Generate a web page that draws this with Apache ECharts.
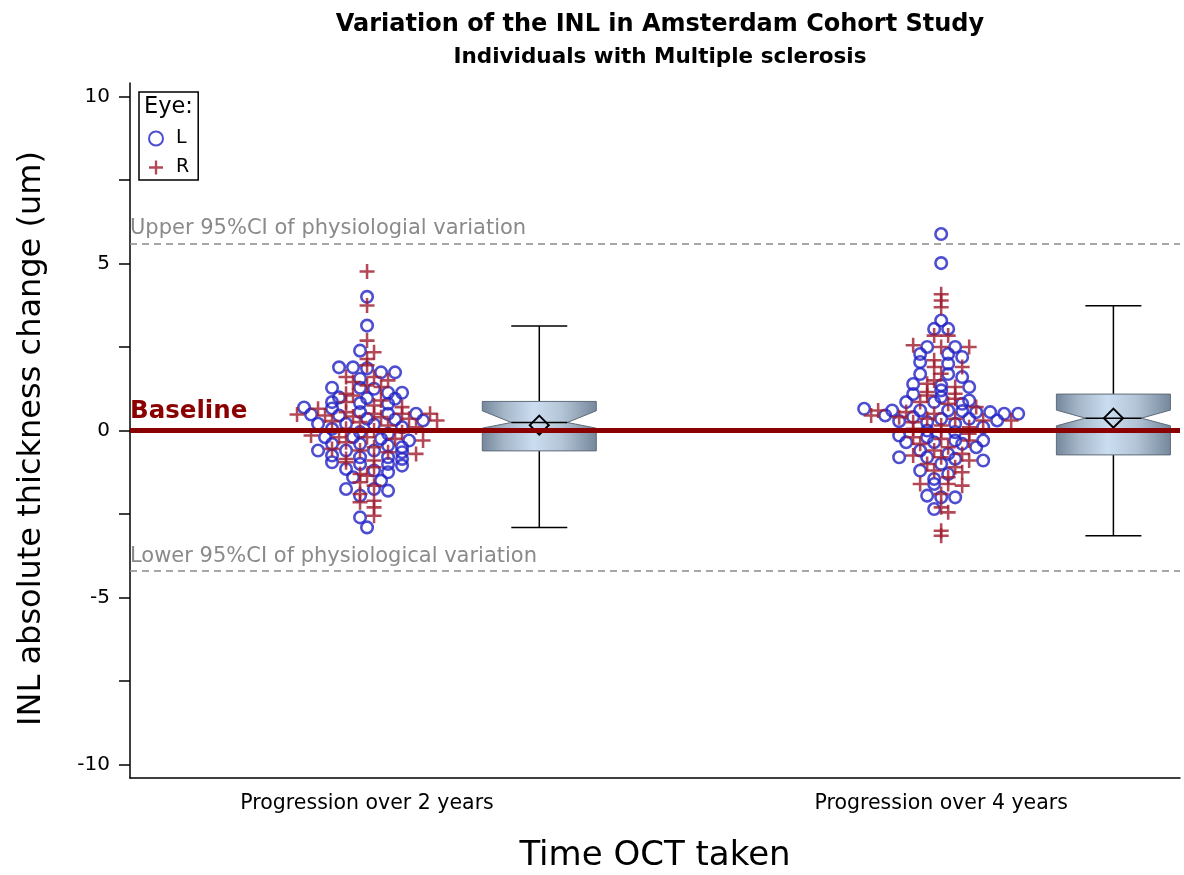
<!DOCTYPE html>
<html>
<head>
<meta charset="utf-8">
<script src="https://cdn.jsdelivr.net/npm/echarts@6/dist/echarts.min.js"></script>
<style>
html,body{margin:0;padding:0;background:#fff;}
#chart{width:1184px;height:875px;}
</style>
</head>
<body>
<div id="chart"></div>
<script>
// ---------- DATA ----------
const categories = ['Progression over 2 years', 'Progression over 4 years'];

// Individual INL changes (um), per time point and eye
const twoYearL = [4.0, 3.14, 2.39, 1.89, 1.89, 1.86, 1.74, 1.74, 1.55, 1.28, 1.28, 1.25, 1.13, 1.13, 0.99, 0.97, 0.95, 0.85, 0.82, 0.8, 0.69, 0.66, 0.55, 0.5, 0.5, 0.48, 0.45, 0.35, 0.33, 0.3, 0.2, 0.2, 0.18, 0.1, 0.05, -0.05, -0.1, -0.2, -0.2, -0.25, -0.3, -0.4, -0.4, -0.45, -0.5, -0.6, -0.6, -0.6, -0.65, -0.75, -0.8, -0.8, -0.85, -0.95, -1.0, -1.0, -1.05, -1.15, -1.2, -1.25, -1.4, -1.5, -1.75, -1.75, -1.8, -1.95, -2.6, -2.9];
const twoYearR = [4.76, 3.74, 2.69, 2.34, 2.14, 1.95, 1.6, 1.6, 1.5, 1.45, 1.35, 1.3, 1.1, 1.05, 0.9, 0.85, 0.75, 0.7, 0.65, 0.55, 0.5, 0.5, 0.5, 0.48, 0.45, 0.42, 0.4, 0.35, 0.3, 0.28, 0.25, 0.15, 0.1, 0.05, 0.0, -0.05, -0.15, -0.2, -0.2, -0.25, -0.3, -0.35, -0.5, -0.55, -0.6, -0.65, -0.7, -0.85, -0.9, -0.95, -1.1, -1.3, -1.35, -1.55, -1.65, -1.9, -2.1, -2.15, -2.3, -2.55];
const fourYearL = [5.88, 5.01, 3.29, 3.04, 3.04, 2.5, 2.5, 2.29, 2.29, 2.2, 2.05, 2.0, 1.69, 1.69, 1.6, 1.39, 1.35, 1.3, 1.2, 1.09, 1.0, 0.9, 0.85, 0.85, 0.8, 0.65, 0.6, 0.6, 0.6, 0.58, 0.55, 0.55, 0.5, 0.5, 0.45, 0.4, 0.35, 0.35, 0.3, 0.28, 0.25, 0.2, 0.1, 0.0, -0.05, -0.15, -0.2, -0.3, -0.3, -0.35, -0.35, -0.4, -0.5, -0.6, -0.7, -0.8, -0.8, -0.85, -0.9, -1.0, -1.2, -1.3, -1.45, -1.6, -1.95, -2.0, -2.0, -2.35];
const fourYearR = [4.08, 3.89, 3.69, 2.84, 2.84, 2.55, 2.5, 2.5, 2.1, 1.9, 1.9, 1.7, 1.5, 1.4, 1.3, 1.15, 1.1, 1.05, 0.95, 0.85, 0.8, 0.7, 0.6, 0.55, 0.5, 0.45, 0.4, 0.35, 0.35, 0.3, 0.3, 0.25, 0.15, 0.1, 0.05, 0.0, -0.1, -0.2, -0.25, -0.3, -0.4, -0.5, -0.6, -0.7, -0.75, -0.8, -0.9, -1.0, -1.1, -1.2, -1.25, -1.4, -1.6, -1.6, -1.65, -1.9, -2.3, -2.45, -3.0, -3.15];

// Box plot statistics per time point
const whiskerLow  = [-2.9, -3.15];
const q1          = [-0.61, -0.73];
const median      = [0.24, 0.37];
const q3          = [0.87, 1.09];
const whiskerHigh = [3.13, 3.73];
const notchLow    = [0.07, 0.14];
const notchHigh   = [0.59, 0.61];
const meanValue   = [0.16, 0.37];

// Reference lines
const upperCI = 5.6;
const lowerCI = -4.2;
const baseline = 0;

// Axis ticks / labels
const yTickValues  = [-10, -7.5, -5, -2.5, 0, 2.5, 5, 7.5, 10];
const yLabelValues = [-10, -5, 0, 5, 10];
const xLabelValues = [0, 1];

// ---------- LAYOUT CONSTANTS ----------
const FONT = 'DejaVu Sans';
const X_MIN = -0.4129, X_MAX = 1.416;
const BOX_OFFSET = 0.3;
const JITTER_BIN = 0.2;
const JITTER_STEP = 14 / 574;  // about 14 px between neighbours
const BOX_HALF = 57, NOTCH_HALF = 28, CAP_HALF = 28, DIAMOND = 9.5;

// beeswarm-style jitter: points with (nearly) equal value are spread sideways
function jitter(groupIndex, lVals, rVals) {
  const bins = new Map();
  const add = (eye, v) => {
    const k = Math.round(v / JITTER_BIN + 1e-9);
    if (!bins.has(k)) bins.set(k, { L: [], R: [] });
    bins.get(k)[eye].push(v);
  };
  lVals.forEach(v => add('L', v));
  rVals.forEach(v => add('R', v));
  const outL = [], outR = [];
  bins.forEach(b => {
    const seq = [];
    const m = Math.max(b.L.length, b.R.length);
    const rFirst = b.R.length > b.L.length;
    for (let i = 0; i < m; i++) {
      if (rFirst) {
        if (i < b.R.length) seq.push(['R', b.R[i]]);
        if (i < b.L.length) seq.push(['L', b.L[i]]);
      } else {
        if (i < b.L.length) seq.push(['L', b.L[i]]);
        if (i < b.R.length) seq.push(['R', b.R[i]]);
      }
    }
    const n = seq.length;
    seq.forEach((it, i) => {
      const x = groupIndex + (i - (n - 1) / 2) * JITTER_STEP;
      (it[0] === 'L' ? outL : outR).push([x, it[1]]);
    });
  });
  return { L: outL, R: outR };
}

const g0 = jitter(0, twoYearL, twoYearR);
const g1 = jitter(1, fourYearL, fourYearR);
const dataL = g0.L.concat(g1.L);
const dataR = g0.R.concat(g1.R);

const boxData = categories.map((c, i) => [i + BOX_OFFSET, whiskerLow[i], q1[i], median[i], q3[i], whiskerHigh[i], notchLow[i], notchHigh[i], meanValue[i]]);

const plusPath = 'path://M4.15,0h1.7v4.15h4.15v1.7h-4.15v4.15h-1.7v-4.15h-4.15v-1.7h4.15z';

const chart = echarts.init(document.getElementById('chart'), null, { renderer: 'canvas' });

const option = {
  animation: false,
  backgroundColor: '#fff',
  textStyle: { fontFamily: FONT },
  title: {
    text: 'Variation of the INL in Amsterdam Cohort Study',
    subtext: 'Individuals with Multiple sclerosis',
    left: 655, top: 8, textAlign: 'center',
    itemGap: 9,
    textStyle: { fontFamily: FONT, fontSize: 24, fontWeight: 'bold', color: '#000' },
    subtextStyle: { fontFamily: FONT, fontSize: 21.5, fontWeight: 'bold', color: '#000' }
  },
  legend: {
    orient: 'vertical',
    left: 139, top: 92,
    padding: [37, 9, 3, 9],
    borderColor: '#000', borderWidth: 1.5,
    itemWidth: 14, itemHeight: 14, itemGap: 10,
    textStyle: { fontFamily: FONT, fontSize: 19, color: '#000', padding: [0, 0, 0, 8] },
    data: ['L', 'R']
  },
  graphic: [{
    type: 'text', left: 144, top: 96, silent: true,
    style: { text: 'Eye:', fontFamily: FONT, fontSize: 22.5, fill: '#000' }
  }],
  grid: { left: 130, right: 4, top: 83, bottom: 97, containLabel: false, outerBoundsMode: 'none' },
  xAxis: {
    type: 'value', min: X_MIN, max: X_MAX,
    name: 'Time OCT taken', nameLocation: 'middle', nameGap: 61,
    nameTextStyle: { fontFamily: FONT, fontSize: 34, color: '#000' },
    axisLine: { onZero: false, lineStyle: { color: '#000', width: 1.5 } },
    axisTick: { show: false },
    splitLine: { show: false },
    axisLabel: {
      customValues: xLabelValues, margin: 15,
      fontFamily: FONT, fontSize: 20.5, color: '#000',
      formatter: v => categories[Math.round(v)]
    }
  },
  yAxis: {
    type: 'value', min: -10.4, max: 10.4,
    name: 'INL absolute thickness change (um)', nameLocation: 'middle', nameGap: 82,
    nameTextStyle: { fontFamily: FONT, fontSize: 32, color: '#000', padding: [0, 16, 0, 0] },
    axisLine: { show: true, onZero: false, lineStyle: { color: '#000', width: 1.5 } },
    axisTick: { show: true, customValues: yTickValues, length: 11, lineStyle: { color: '#000', width: 1.5 } },
    splitLine: { show: false },
    axisLabel: {
      customValues: yLabelValues, margin: 20,
      fontFamily: FONT, fontSize: 20, color: '#000'
    }
  },
  series: [
    {
      name: 'L', type: 'scatter', z: 2, silent: true,
      symbol: 'circle', symbolSize: 11.5,
      itemStyle: { color: 'rgba(255,255,255,0)', borderColor: '#2222c4', borderWidth: 2.6 },
      data: dataL
    },
    {
      name: 'R', type: 'scatter', z: 2, silent: true,
      symbol: plusPath, symbolSize: 15,
      itemStyle: { color: '#a01b2d', borderWidth: 0 },
      data: dataR
    },
    {
      name: 'refs', type: 'line', z: 3, silent: true, data: [],
      markLine: {
        silent: true, symbol: 'none', animation: false,
        data: [
          {
            yAxis: upperCI,
            lineStyle: { color: '#8a8a8a', width: 1.5, type: [7, 5] },
            label: { show: true, position: 'insideStartTop', distance: [0, 4], formatter: 'Upper 95%CI of physiologial variation', fontFamily: FONT, fontSize: 21, color: '#8a8a8a' }
          },
          {
            yAxis: lowerCI,
            lineStyle: { color: '#8a8a8a', width: 1.5, type: [7, 5] },
            label: { show: true, position: 'insideStartTop', distance: [0, 4], formatter: 'Lower 95%CI of physiological variation', fontFamily: FONT, fontSize: 21, color: '#8a8a8a' }
          },
          {
            yAxis: baseline,
            lineStyle: { color: '#8b0000', width: 5, type: 'solid' },
            label: { show: true, position: 'insideStartTop', distance: [0, 6], formatter: 'Baseline', fontFamily: FONT, fontSize: 24.5, fontWeight: 'bold', color: '#8b0000' }
          }
        ]
      }
    },
    {
      name: 'box', type: 'custom', z: 4, silent: true,
      encode: { x: 0, y: [1, 2, 3, 4, 5] },
      data: boxData,
      renderItem: function (params, api) {
        const cx = api.value(0);
        const X = api.coord([cx, 0])[0];
        const Y = v => api.coord([cx, v])[1];
        const yLo = Y(api.value(1)), yQ1 = Y(api.value(2)), yMed = Y(api.value(3));
        const yQ3 = Y(api.value(4)), yHi = Y(api.value(5));
        const yNL = Y(api.value(6)), yNH = Y(api.value(7)), yMean = Y(api.value(8));
        const black = { stroke: '#000', lineWidth: 1.5 };
        const L = X - BOX_HALF, R = X + BOX_HALF;
        return {
          type: 'group',
          children: [
            { type: 'line', shape: { x1: X, y1: yQ3, x2: X, y2: yHi }, style: black },
            { type: 'line', shape: { x1: X - CAP_HALF, y1: yHi, x2: X + CAP_HALF, y2: yHi }, style: black },
            { type: 'line', shape: { x1: X, y1: yQ1, x2: X, y2: yLo }, style: black },
            { type: 'line', shape: { x1: X - CAP_HALF, y1: yLo, x2: X + CAP_HALF, y2: yLo }, style: black },
            {
              type: 'polygon',
              shape: { points: [[L, yQ3], [R, yQ3], [R, yNH], [X + NOTCH_HALF, yMed], [R, yNL], [R, yQ1], [L, yQ1], [L, yNL], [X - NOTCH_HALF, yMed], [L, yNH]] },
              style: {
                fill: new echarts.graphic.LinearGradient(0, 0, 1, 0, [
                  { offset: 0, color: '#74869a' },
                  { offset: 0.2, color: '#a6b7ca' },
                  { offset: 0.45, color: '#cbddf0' },
                  { offset: 0.7, color: '#b3c4d6' },
                  { offset: 1, color: '#75879b' }
                ]),
                stroke: '#5f6b78', lineWidth: 1
              }
            },
            { type: 'line', shape: { x1: X - NOTCH_HALF, y1: yMed, x2: X + NOTCH_HALF, y2: yMed }, style: black },
            {
              type: 'polygon',
              shape: { points: [[X, yMean - DIAMOND], [X + DIAMOND, yMean], [X, yMean + DIAMOND], [X - DIAMOND, yMean]] },
              style: { fill: 'none', stroke: '#000', lineWidth: 2 }
            }
          ]
        };
      }
    }
  ]
};

chart.setOption(option);
</script>
</body>
</html>
